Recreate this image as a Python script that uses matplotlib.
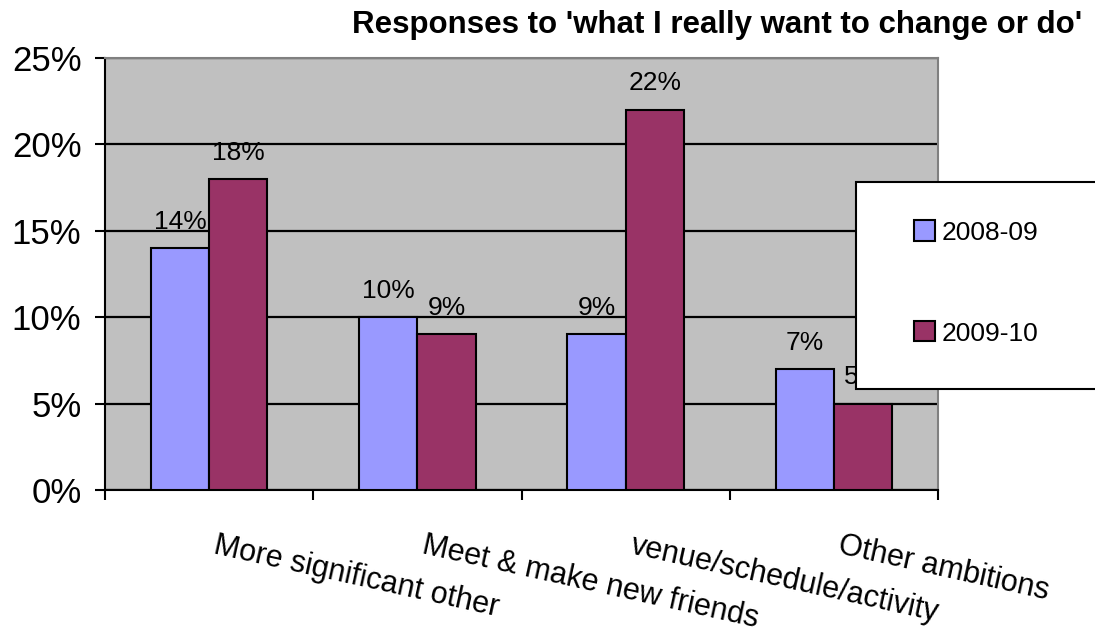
import matplotlib
matplotlib.use("Agg")
import matplotlib.pyplot as plt
import numpy as np
from matplotlib.patches import Rectangle, Patch
from matplotlib.transforms import offset_copy

# dane
categories = [
    "More significant other",
    "Meet & make new friends",
    "venue/schedule/activity",
    "Other ambitions",
]
series_names = ["2008-09", "2009-10"]
vals_0809 = [14, 10, 9, 7]
vals_0910 = [18, 9, 22, 5]
y_ticks = [0, 5, 10, 15, 20, 25]
title = "Responses to 'what I really want to change or do'"

colors = ["#9999FF", "#993366"]

plt.rcParams["font.family"] = ["Liberation Sans", "DejaVu Sans"]

W, H = 1095, 635
fig = plt.figure(figsize=(W / 100, H / 100), dpi=100)
ax = fig.add_axes([105 / W, 1 - 490 / H, (938 - 105) / W, (490 - 58) / H])
ax.set_facecolor("#C0C0C0")

x = np.arange(len(categories))
bw = 0.28
for k, vals in enumerate([vals_0809, vals_0910]):
    pos = x + (k - 0.5) * bw
    ax.bar(pos, vals, width=bw, color=colors[k], edgecolor="black",
           linewidth=1.5, zorder=3)
    for px, v in zip(pos, vals):
        ax.annotate(f"{v}%", (px, v), xytext=(0, 14), textcoords="offset points",
                    ha="center", va="baseline", fontsize=19, zorder=4)

ax.set_xlim(-0.5, len(categories) - 0.5)
ax.set_ylim(0, 25)
ax.set_yticks(y_ticks)
ax.set_yticklabels([f"{t}%" for t in y_ticks], fontsize=25)
ax.yaxis.grid(True, color="black", linewidth=1.6, zorder=1)
ax.set_axisbelow(True)
ax.tick_params(axis="y", direction="out", length=7, width=1.5, pad=10)

ax.set_xticks(np.arange(len(categories) + 1) - 0.5)
ax.set_xticklabels([])
ax.tick_params(axis="x", direction="out", length=7, width=1.5)

for side in ["left", "bottom"]:
    ax.spines[side].set_color("black")
    ax.spines[side].set_linewidth(1.5)
for side in ["top", "right"]:
    ax.spines[side].set_color("#808080")
    ax.spines[side].set_linewidth(1.5)

# etykiety kategorii pod skosem
lab_tr = offset_copy(ax.get_xaxis_transform(), fig=fig, x=6, y=-29, units="points")
for i, lab in enumerate(categories):
    ax.text(i, 0, lab, transform=lab_tr, rotation=-12.5, rotation_mode="anchor",
            ha="left", va="top", fontsize=22, clip_on=False)

# tytuł wychodzi poza prawą krawędź, jak w oryginale
fig.text(352 / W, 1 - 33 / H, title, fontsize=22.5, fontweight="bold",
         ha="left", va="baseline")

# ramka legendy
box = Rectangle((856 / W, 1 - 389 / H), 260 / W, (389 - 182) / H,
                transform=fig.transFigure, facecolor="white", edgecolor="black",
                linewidth=1.5, zorder=5)
fig.patches.append(box)

handles = [Patch(facecolor=c, edgecolor="black", linewidth=1.5) for c in colors]
leg = fig.legend(handles, series_names, loc="center left",
                 bbox_to_anchor=(901 / W, 1 - 283 / H), frameon=False,
                 fontsize=19, handlelength=0.8, handleheight=0.8,
                 handletextpad=0.25, labelspacing=2.9, borderpad=0)
leg.set_zorder(6)

fig.savefig("out.png", dpi=100)
